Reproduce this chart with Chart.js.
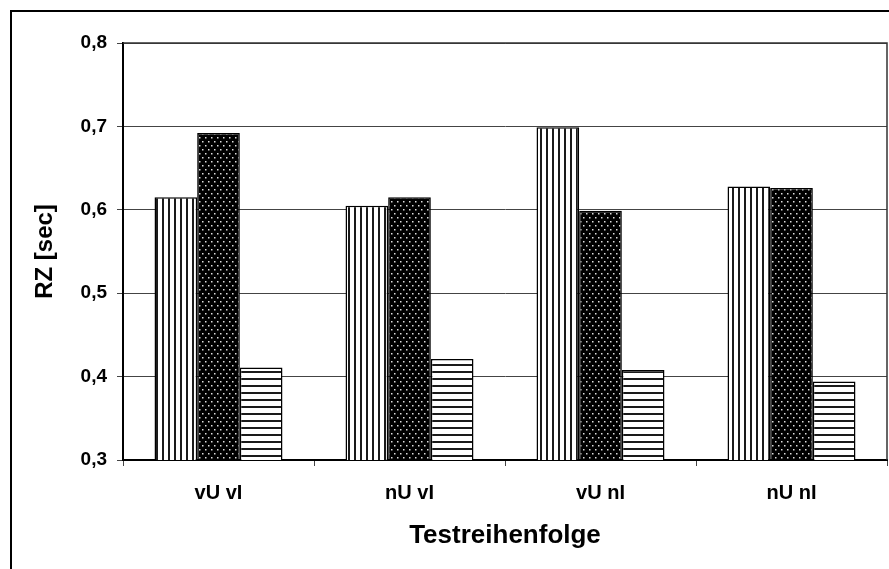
<!DOCTYPE html>
<html>
<head>
<meta charset="utf-8">
<script src="https://cdn.jsdelivr.net/npm/chart.js@4/dist/chart.umd.min.js"></script>
<style>
html,body{margin:0;padding:0;background:#fff;}
canvas{display:block;}
</style>
</head>
<body>
<canvas id="c" width="889" height="569"></canvas>
<script>
const categories = ['vU vI', 'nU vI', 'vU nI', 'nU nI'];
const seriesVertical = [0.615, 0.605, 0.699, 0.628];
const seriesDots = [0.692, 0.615, 0.599, 0.626];
const seriesHorizontal = [0.411, 0.421, 0.408, 0.394];
const yTickValues = [0.3, 0.4, 0.5, 0.6, 0.7, 0.8];
const xTitle = 'Testreihenfolge';
const yTitle = 'RZ [sec]';

function makePattern(w, h, draw) {
  const c = document.createElement('canvas');
  c.width = w; c.height = h;
  const g = c.getContext('2d');
  draw(g);
  return document.getElementById('c').getContext('2d').createPattern(c, 'repeat');
}
const patVertical = makePattern(6, 4, g => {
  g.fillStyle = '#fff'; g.fillRect(0, 0, 6, 4);
  g.fillStyle = '#1a1a1a'; g.fillRect(0, 0, 2, 4);
});
const patHorizontal = makePattern(4, 7, g => {
  g.fillStyle = '#fff'; g.fillRect(0, 0, 4, 7);
  g.fillStyle = '#1a1a1a'; g.fillRect(0, 0, 4, 2);
});
const patDots = makePattern(6, 8, g => {
  g.fillStyle = '#000'; g.fillRect(0, 0, 6, 8);
  g.fillStyle = '#ddd';
  g.fillRect(1, 1, 1.5, 1.5);
  g.fillRect(4, 5, 1.5, 1.5);
});

const frame = {
  id: 'frame',
  afterDraw(chart) {
    const ctx = chart.ctx, a = chart.chartArea;
    ctx.save();
    ctx.strokeStyle = '#333';
    ctx.lineWidth = 1.5;
    ctx.beginPath();
    ctx.moveTo(a.left, a.top);
    ctx.lineTo(a.right, a.top);
    ctx.lineTo(a.right, a.bottom);
    ctx.stroke();
    ctx.strokeStyle = '#000';
    ctx.lineWidth = 2;
    ctx.beginPath();
    ctx.moveTo(11, 569);
    ctx.lineTo(11, 11);
    ctx.lineTo(889, 11);
    ctx.stroke();
    ctx.restore();
  }
};

const font = 'Liberation Sans, Arial, sans-serif';

new Chart(document.getElementById('c'), {
  type: 'bar',
  data: {
    labels: categories,
    datasets: [
      { label: 'A', data: seriesVertical, backgroundColor: patVertical },
      { label: 'B', data: seriesDots, backgroundColor: patDots },
      { label: 'C', data: seriesHorizontal, backgroundColor: patHorizontal }
    ].map(d => Object.assign(d, { borderColor: '#000', borderWidth: 1.5, borderSkipped: false }))
  },
  options: {
    responsive: false,
    animation: false,
    devicePixelRatio: 1,
    layout: { padding: { top: 43, right: 2, left: 0, bottom: 0 } },
    datasets: { bar: { categoryPercentage: 0.67, barPercentage: 1 } },
    plugins: { legend: { display: false }, tooltip: { enabled: false } },
    scales: {
      x: {
        grid: { drawOnChartArea: false, offset: true, tickLength: 6, color: '#444' },
        border: { color: '#000', width: 2 },
        ticks: { color: '#000', font: { family: font, size: 20, weight: 'bold' }, padding: 15, maxRotation: 0 },
        title: { display: true, text: xTitle, color: '#000', font: { family: font, size: 26, weight: 'bold' }, padding: { top: 0, bottom: 18 } },
        afterFit(s) { s.height = 109; }
      },
      y: {
        min: yTickValues[0],
        max: yTickValues[yTickValues.length - 1],
        afterBuildTicks(s) { s.ticks = yTickValues.map(v => ({ value: v })); },
        grid: { color: '#444', tickLength: 6 },
        border: { color: '#000', width: 2 },
        ticks: { color: '#000', font: { family: font, size: 19, weight: 'bold' }, padding: 10,
          callback: v => Number(v).toFixed(1).replace('.', ',') },
        title: { display: true, text: yTitle, color: '#000', font: { family: font, size: 24, weight: 'bold' }, padding: { top: 31, bottom: 0 } },
        afterFit(s) { s.width = 123; }
      }
    }
  },
  plugins: [frame]
});
</script>
</body>
</html>
